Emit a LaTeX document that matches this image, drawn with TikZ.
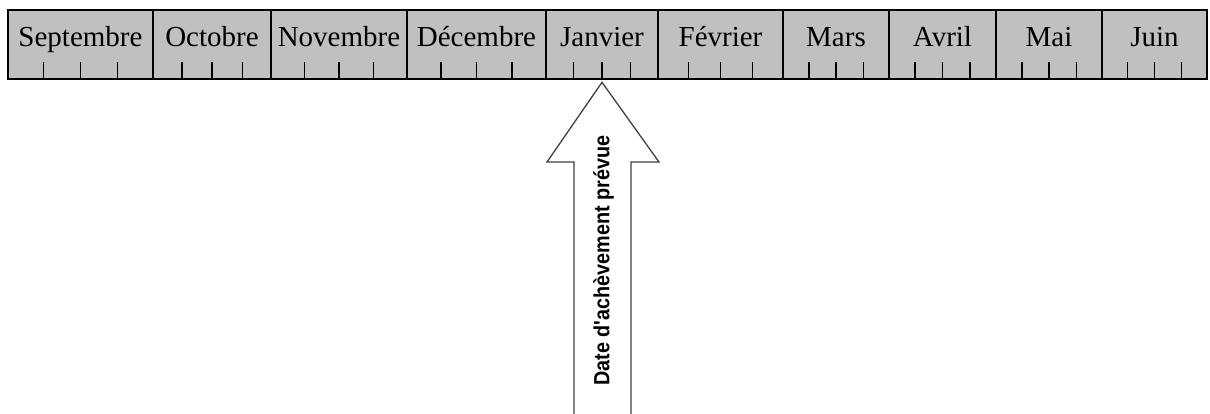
\documentclass[tikz,border=0pt]{standalone}
\usepackage{fontspec}
\setmainfont{Liberation Serif}
\newfontfamily\arrowfont{Liberation Sans}
\usetikzlibrary{calc}
\definecolor{barfill}{HTML}{C0C0C0}
\definecolor{arrowline}{HTML}{404040}
\tikzset{
  month/.style={draw, line width=2.6pt, fill=barfill, rectangle, inner sep=0pt,
    minimum height=69pt, text height=20pt, text depth=15pt,
    font=\fontsize{29}{32}\selectfont},
  tick/.style={line width=1.3pt},
}
\begin{document}
\begin{tikzpicture}[x=1pt, y=-1pt]
    \useasboundingbox (0,0) rectangle (1210,414);
    % the months
    \node[month, minimum width=145pt] (sep) at (80.5,44.5) {Septembre};
    \node[month, minimum width=118pt] (oct) at (212,44.5) {Octobre};
    \node[month, minimum width=136pt] (nov) at (339,44.5) {Novembre};
    \node[month, minimum width=139pt] (dec) at (476.5,44.5) {Décembre};
    \node[month, minimum width=112pt] (jan) at (602,44.5) {Janvier};
    \node[month, minimum width=125pt] (fev) at (720.5,44.5) {Février};
    \node[month, minimum width=106pt] (mar) at (836,44.5) {Mars};
    \node[month, minimum width=107pt] (avr) at (942.5,44.5) {Avril};
    \node[month, minimum width=106pt] (mai) at (1049,44.5) {Mai};
    \node[month, minimum width=105pt] (jun) at (1154.5,44.5) {Juin};
    % weeks
    \foreach \m in {sep,oct,nov,dec,jan,fev,mar,avr,mai,jun}
      \foreach \f in {0.25,0.5,0.75}
        \draw[tick] ($(\m.south west)!\f!(\m.south east)$) -- ++(0,-18.5);
    % arrow up to the middle of january
    \coordinate (tip) at ($(jan.south)+(0,2)$);
    \draw[arrowline, line width=1.3pt, fill=white]
      (574,420) -- (574,162) -- (547,162) -- (tip) -- (659,162) -- (631,162) -- (631,420);
    \node[rotate=90, inner sep=0pt, font=\arrowfont\bfseries\fontsize{22}{24}\selectfont]
      (due) at (603.5,260.5) {\scalebox{0.9}[1]{Date d'achèvement prévue}};
\end{tikzpicture}
\end{document}
